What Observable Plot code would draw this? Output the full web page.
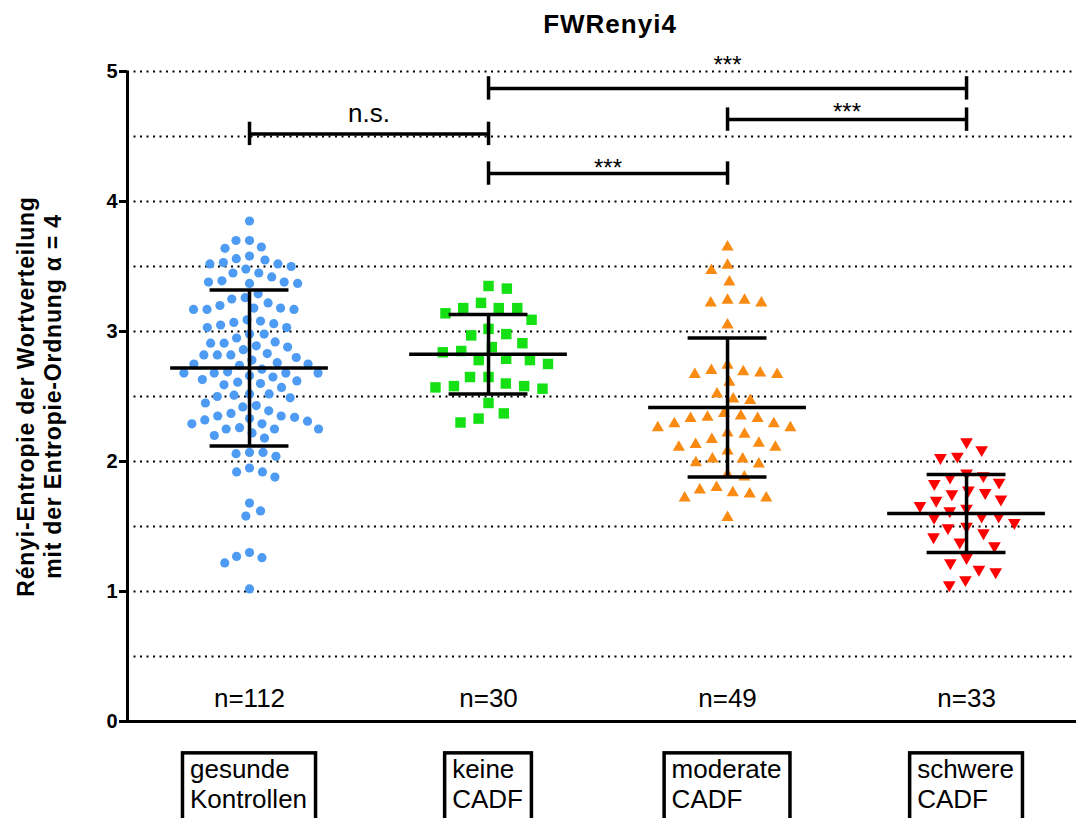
<!DOCTYPE html>
<html><head><meta charset="utf-8">
<script src="https://cdn.jsdelivr.net/npm/d3@7"></script>
<script src="https://cdn.jsdelivr.net/npm/@observablehq/plot@0.6"></script>
<style>
body{margin:0;background:#fff;font-family:"Liberation Sans",Arial,sans-serif;}
#title{height:50px;box-sizing:border-box;padding-left:144px;padding-top:11px;text-align:center;font-weight:bold;font-size:26px;line-height:1;letter-spacing:1px;color:#000;}
#chart svg{display:block;}
</style></head><body>
<div id="title">FWRenyi4</div>
<div id="chart"></div>
<script>
// ---------- data ----------
const categories = ["gesunde\nKontrollen", "keine\nCADF", "moderate\nCADF", "schwere\nCADF"];
const nLabels = ["n=112", "n=30", "n=49", "n=33"];
const gesundeKontrollen = [3.85,3.70,3.70,3.65,3.64,3.58,3.55,3.53,3.52,3.50,3.52,3.56,3.48,3.45,3.45,3.42,3.38,3.39,3.37,3.38,3.37,
  3.26,3.29,3.22,3.18,3.25,3.17,3.17,3.17,3.18,3.20,3.09,3.07,3.05,3.03,3.03,3.06,3.08,2.98,2.92,2.91,2.89,2.91,2.95,2.98,2.88,2.86,
  2.82,2.82,2.78,2.80,2.82,2.83,2.76,2.75,2.74,2.75,2.71,2.68,2.68,2.68,2.68,2.69,2.66,2.63,2.61,2.59,2.62,2.65,2.57,2.52,2.51,2.49,
  2.50,2.52,2.43,2.42,2.45,2.37,2.35,2.33,2.31,2.29,2.29,2.32,2.34,2.35,2.39,2.25,2.25,2.20,2.18,2.22,2.25,2.26,2.07,2.04,2.06,2.07,
  1.95,1.92,1.88,1.92,1.68,1.58,1.62,1.30,1.26,1.22,1.27,1.02,2.60];
const keineCADF = [3.33,3.35,3.18,3.18,3.18,3.22,3.14,3.09,3.02,2.97,2.98,2.91,2.88,2.84,2.85,2.79,2.75,2.78,2.78,2.65,2.65,2.60,2.58,
  2.56,2.57,2.58,2.45,2.37,2.30,2.33];
const moderateCADF = [3.65,3.51,3.47,3.38,3.24,3.22,3.22,3.24,3.05,2.74,2.69,2.67,2.67,2.68,2.70,2.61,2.52,2.47,2.48,2.35,2.33,2.37,
  2.34,2.33,2.29,2.26,2.26,2.29,2.21,2.22,2.14,2.11,2.11,2.13,2.17,2.08,2.02,1.98,2.02,1.99,1.88,1.90,1.80,1.76,1.72,1.72,1.75,1.78,1.57];
const schwereCADF = [2.15,2.09,2.03,2.04,1.91,1.88,1.89,1.84,1.83,1.78,1.75,1.76,1.70,1.71,1.66,1.64,1.58,1.57,1.58,1.62,1.50,1.53,
  1.49,1.45,1.42,1.38,1.35,1.26,1.22,1.15,1.17,1.09,1.05];
const groupMeans = [2.72, 2.825, 2.415, 1.60];
const groupSD = [0.60, 0.305, 0.535, 0.30];
const compFrom = [1, 2, 3, 2];
const compTo = [2, 3, 4, 4];
const compY = [4.52, 4.215, 4.63, 4.87];
const compLabel = ["n.s.", "***", "***", "***"];
const compLabelY = [4.61, 4.20, 4.63, 4.99];
const yTicks = [0, 1, 2, 3, 4, 5];
const gridValues = [0.5, 1, 1.5, 2, 2.5, 3, 3.5, 4, 4.5, 5];
const yLabel = "Rényi-Entropie der Wortverteilung\nmit der Entropie-Ordnung α = 4";

// ---------- layout ----------
const FONT = '"Liberation Sans", Arial, sans-serif';
const W = 1076, H = 768, mL = 127, mR = 0, mT = 21, mB = 97;
const xDomain = [0.4895, 4.46];
const pxPerX = (W - mL - mR) / (xDomain[1] - xDomain[0]);
const pxPerY = (H - mT - mB) / 5;

function swarmOffsets(values, D) {
  const order = d3.range(values.length).sort((a, b) => values[b] - values[a]);
  const placed = [], off = new Array(values.length);
  let flip = 1;
  for (const i of order) {
    const y = values[i] * pxPerY;
    const near = placed.filter(p => Math.abs(p.y - y) < D);
    const cands = [0];
    for (const p of near) { const dx = Math.sqrt(D * D - (p.y - y) ** 2); cands.push(p.x + dx, p.x - dx); }
    cands.sort((a, b) => (Math.abs(a) - Math.abs(b)) || (a - b) * flip);
    let x = 0;
    for (const c of cands) {
      if (near.every(p => (p.x - c) ** 2 + (p.y - y) ** 2 >= D * D - 1e-6)) { x = c; break; }
    }
    flip = -flip;
    off[i] = x; placed.push({x, y});
  }
  return off;
}

const groups = [gesundeKontrollen, keineCADF, moderateCADF, schwereCADF];
const spacing = [13.5, 18.5, 17, 17];
const points = groups.map((vals, g) => {
  const off = swarmOffsets(vals, spacing[g]);
  return vals.map((v, i) => ({g, value: v, x: g + 1 + off[i] / pxPerX}));
});

const downTriangle = {
  draw(ctx, size) {
    const y = Math.sqrt(size / (Math.sqrt(3) * 3));
    ctx.moveTo(0, 2 * y);
    ctx.lineTo(-Math.sqrt(3) * y, -y);
    ctx.lineTo(Math.sqrt(3) * y, -y);
    ctx.closePath();
  }
};

// category boxes sized from text
const cv = document.createElement("canvas").getContext("2d");
cv.font = `26px ${FONT}`;
const boxes = categories.map((c, i) => {
  const w = d3.max(c.split("\n"), s => cv.measureText(s).width) + 16;
  return {i, text: c, x1: i + 1 - (w / 2) / pxPerX, x2: i + 1 + (w / 2) / pxPerX};
});

const errs = groupMeans.map((m, i) => ({g: i + 1, m, lo: m - groupSD[i], hi: m + groupSD[i]}));
const comps = compFrom.map((f, i) => ({f, t: compTo[i], y: compY[i], label: compLabel[i], ly: compLabelY[i]}));

const chart = Plot.plot({
  width: W, height: H, marginLeft: mL, marginRight: mR, marginTop: mT, marginBottom: mB,
  x: {domain: xDomain, axis: null},
  y: {domain: [0, 5], axis: null},
  style: {fontFamily: FONT, background: "white", color: "black"},
  marks: [
    Plot.ruleY(gridValues, {stroke: "black", strokeWidth: 2, strokeDasharray: "2 4.5"}),
    Plot.ruleY([0], {stroke: "black", strokeWidth: 3}),
    Plot.ruleX([xDomain[0]], {y1: 0, y2: 5, stroke: "black", strokeWidth: 3}),
    Plot.ruleY(yTicks, {insetLeft: -8, insetRight: W - mL - mR, stroke: "black", strokeWidth: 3}),
    Plot.text(yTicks, {y: d => d, text: d => String(d), frameAnchor: "left", dx: -10, textAnchor: "end",
      fontSize: 20, fontWeight: "bold", fill: "black"}),
    Plot.text([yLabel], {frameAnchor: "left", dx: -89, rotate: -90, fontSize: 23, fontWeight: "bold",
      lineHeight: 1.2, textAnchor: "middle", lineAnchor: "middle", fill: "black"}),
    // data points
    Plot.dot(points[0], {x: "x", y: "value", symbol: "circle", r: 4.6, fill: "#4d9bf3", stroke: "none"}),
    Plot.dot(points[1], {x: "x", y: "value", symbol: "square", r: 5.9, fill: "#14e014", stroke: "none"}),
    Plot.dot(points[2], {x: "x", y: "value", symbol: "triangle", r: 4.5, fill: "#f98a12", stroke: "none"}),
    Plot.dot(points[3], {x: "x", y: "value", symbol: downTriangle, r: 4.7, fill: "#ff0000", stroke: "none"}),
    // mean ± SD
    Plot.ruleX(errs, {x: "g", y1: "lo", y2: "hi", stroke: "black", strokeWidth: 3.5}),
    Plot.ruleY(errs, {y: "m", x1: d => d.g - 0.33, x2: d => d.g + 0.33, stroke: "black", strokeWidth: 3.5}),
    Plot.ruleY(errs, {y: "hi", x1: d => d.g - 0.165, x2: d => d.g + 0.165, stroke: "black", strokeWidth: 3.5}),
    Plot.ruleY(errs, {y: "lo", x1: d => d.g - 0.165, x2: d => d.g + 0.165, stroke: "black", strokeWidth: 3.5}),
    // significance brackets
    Plot.ruleY(comps, {y: "y", x1: "f", x2: "t", stroke: "black", strokeWidth: 3.5}),
    Plot.ruleX(comps, {x: "f", y1: d => d.y - 0.09, y2: d => d.y + 0.09, stroke: "black", strokeWidth: 3.5}),
    Plot.ruleX(comps, {x: "t", y1: d => d.y - 0.09, y2: d => d.y + 0.09, stroke: "black", strokeWidth: 3.5}),
    Plot.text(comps, {x: d => (d.f + d.t) / 2, y: "ly", text: "label", lineAnchor: "bottom",
      fontSize: d => d.label === "n.s." ? 26 : 24, fill: "black"}),
    // n labels
    Plot.text(nLabels, {x: (d, i) => i + 1, y: 0.115, text: d => d, lineAnchor: "bottom", fontSize: 26, fill: "black"}),
    // category boxes
    Plot.rect(boxes, {x1: "x1", x2: "x2", y1: -0.245, y2: -0.95, fill: "none", stroke: "black", strokeWidth: 3.5}),
    Plot.text(boxes, {x: d => d.x1 + 7 / pxPerX, y: -0.268, text: "text", textAnchor: "start", lineAnchor: "top",
      lineHeight: 1.16, fontSize: 26, fill: "black"})
  ]
});
document.getElementById("chart").appendChild(chart);
d3.select(chart).selectAll("text").filter(function () { return this.textContent.includes("Rényi"); })
  .style("letter-spacing", "0.8px");
</script>
</body></html>
